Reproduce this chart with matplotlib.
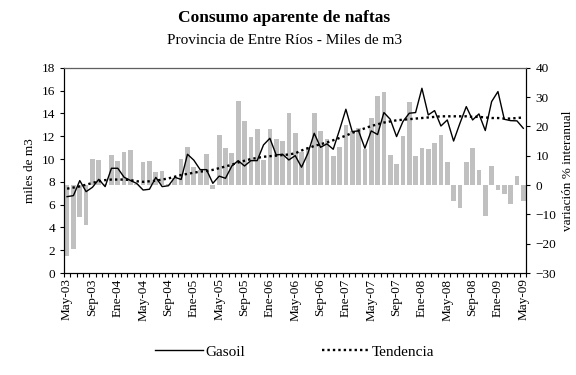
import matplotlib

matplotlib.use("Agg")  # headless
import matplotlib.pyplot as plt
import numpy as np
from matplotlib.lines import Line2D
from matplotlib.ticker import MultipleLocator

plt.rcParams["font.family"] = ["Liberation Serif", "DejaVu Serif"]

# Monthly series, May-03 .. May-09
month_names = ["Ene", "Feb", "Mar", "Abr", "May", "Jun",
               "Jul", "Ago", "Sep", "Oct", "Nov", "Dic"]
first_month, first_year, n_months = 5, 2003, 73

# miles de m3
gasoil = [
    6.70, 6.79, 8.11, 7.14, 7.52, 8.22, 7.58, 9.19, 9.19, 8.40, 8.12, 7.85,
    7.28, 7.35, 8.39, 7.58, 7.66, 8.40, 8.21, 10.42, 9.90, 9.07, 9.07, 7.87,
    8.50, 8.31, 9.39, 9.86, 9.39, 9.86, 9.86, 11.24, 11.82, 10.36, 10.42, 9.92,
    10.30, 9.28, 10.50, 12.26, 11.03, 11.33, 10.86, 12.56, 14.37, 12.41, 12.47, 10.95,
    12.47, 12.15, 14.08, 13.49, 11.97, 13.29, 14.02, 14.08, 16.21, 13.87, 14.25, 12.90,
    13.43, 11.58, 13.14, 14.60, 13.43, 13.96, 12.50, 15.04, 15.92, 13.49, 13.37, 13.35,
    12.70,
]
tendencia = [
    7.40, 7.50, 7.60, 7.75, 7.90, 8.05, 8.15, 8.20, 8.20, 8.20, 8.15, 8.05,
    8.00, 8.05, 8.10, 8.20, 8.30, 8.45, 8.60, 8.70, 8.80, 8.90, 8.95, 9.05,
    9.20, 9.35, 9.50, 9.70, 9.85, 10.00, 10.10, 10.20, 10.25, 10.30, 10.35, 10.40,
    10.50, 10.75, 10.95, 11.15, 11.30, 11.45, 11.65, 11.85, 12.05, 12.30, 12.50, 12.70,
    12.90, 13.05, 13.20, 13.30, 13.40, 13.45, 13.50, 13.55, 13.60, 13.65, 13.70, 13.75,
    13.75, 13.75, 13.75, 13.75, 13.70, 13.70, 13.65, 13.60, 13.60, 13.55, 13.55, 13.60,
    13.65,
]
# variación % interanual
variacion = [
    -24.2, -21.7, -11.0, -13.5, 8.9, 8.6, 0.5, 10.3, 8.2, 11.3, 12.0, 0.4,
    7.9, 8.2, 4.5, 4.8, 0.5, 2.3, 8.9, 13.0, 6.1, 5.3, 10.6, -1.4,
    17.1, 12.7, 10.9, 28.8, 21.9, 16.5, 19.2, 8.4, 19.2, 15.7, 15.2, 24.7,
    17.9, 11.4, 12.9, 24.7, 18.6, 15.6, 9.9, 12.9, 20.5, 18.6, 19.4, 12.2,
    23.0, 30.4, 31.8, 10.3, 7.2, 16.8, 28.2, 9.9, 12.7, 12.3, 14.5, 17.1,
    8.0, -5.3, -7.9, 8.0, 12.7, 5.3, -10.4, 6.5, -1.6, -2.9, -6.4, 3.2,
    -5.6,
]

labels = []
for k in range(n_months):
    m = (first_month - 1 + k) % 12
    y = first_year + (first_month - 1 + k) // 12
    labels.append(f"{month_names[m]}-{y % 100:02d}")

x = np.arange(n_months)

fig = plt.figure(figsize=(5.76, 3.75), dpi=100)
ax = fig.add_axes([0.111, 0.272, 0.803, 0.547])
ax_var = ax.twinx()

# bars sit behind the gasoil line
ax_var.set_zorder(ax.get_zorder() - 1)
ax.patch.set_visible(False)

trend_style = dict(color="black", lw=1.7, ls=(0, (1.0, 1.3)))

ax_var.bar(x, variacion, width=0.74, color="#c0c0c0", linewidth=0)
ax.plot(x, gasoil, color="black", lw=1.0, zorder=3)
ax.plot(x, tendencia, zorder=4, **trend_style)

ax.set_xlim(-0.5, n_months - 0.5)
ax.set_ylim(0, 18)
ax.yaxis.set_major_locator(MultipleLocator(2))
ax_var.set_ylim(-30, 40)
ax_var.yaxis.set_major_locator(MultipleLocator(10))

# month ticks between categories, labels every four months
ax.set_xticks(x[::4])
ax.set_xticklabels(labels[::4], rotation=90)
ax.set_xticks(np.arange(n_months + 1) - 0.5, minor=True)
ax.tick_params(axis="x", which="major", length=0, pad=4, labelsize=9.5)
ax.tick_params(axis="x", which="minor", length=3, direction="out", width=0.8)
ax.tick_params(axis="y", length=3, width=0.8, labelsize=9.5)
ax_var.tick_params(axis="y", length=3, width=0.8, labelsize=9.5)

for a in (ax, ax_var):
    for s in a.spines.values():
        s.set_linewidth(0.8)
ax.spines["top"].set_color("#606060")

ax.set_ylabel("miles de m3", fontsize=9.5, labelpad=4)
ax_var.set_ylabel("variación % interanual", fontsize=9.5, labelpad=4)

fig.text(0.494, 0.953, "Consumo aparente de naftas", ha="center", va="center",
         fontsize=12.5, fontweight="bold")
fig.text(0.494, 0.891, "Provincia de Entre Ríos - Miles de m3", ha="center",
         va="center", fontsize=11)

handles = [
    Line2D([], [], color="black", lw=1.0),
    Line2D([], [], **trend_style),
]
fig.legend(handles, ["Gasoil", "Tendencia"], loc="center",
           bbox_to_anchor=(0.512, 0.062), ncol=2, frameon=False,
           fontsize=11, handlelength=3.1, handletextpad=0.2, columnspacing=5.0)

fig.savefig("out.png", dpi=100)
